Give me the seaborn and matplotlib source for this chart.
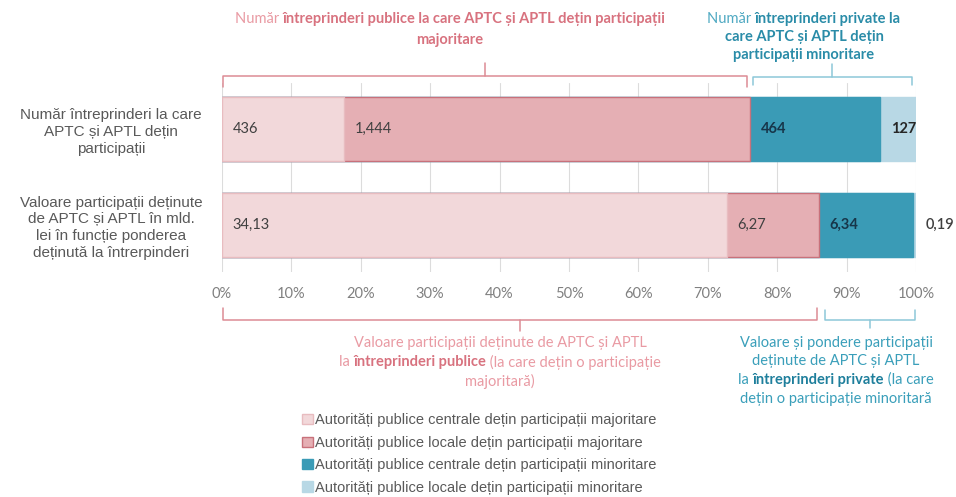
import numpy as np
import pandas as pd
import matplotlib
matplotlib.use("Agg")
import matplotlib.pyplot as plt
import matplotlib.transforms as mtransforms
from matplotlib.patches import Patch
import seaborn as sns

# data
rows = [
    "Număr întreprinderi la care\nAPTC și APTL dețin\nparticipații",
    "Valoare participații deținute\nde APTC și APTL în mld.\nlei în funcție ponderea\ndeținută la întrerpinderi",
]
series = [
    "Autorități publice centrale dețin participații majoritare",
    "Autorități publice locale dețin participații majoritare",
    "Autorități publice centrale dețin participații minoritare",
    "Autorități publice locale dețin participații minoritare",
]
central_major = [436, 34.13]
local_major = [1444, 6.27]
central_minor = [464, 6.34]
local_minor = [127, 0.19]
pct_ticks = [0, 10, 20, 30, 40, 50, 60, 70, 80, 90, 100]

faces = ["#F2D8DA", "#E5AFB4", "#3A9BB6", "#B8D8E5"]
edges = ["#E8BCC0", "#C8717B", "#3A9BB6", "#B8D8E5"]
label_colors = ["#404040", "#404040", "#17364A", "#262626"]
label_weights = ["normal", "normal", "bold", "bold"]

PINK, PINK_B = "#E99AA3", "#D8727F"
TEAL, TEAL_B = "#4FA9C2", "#2A8CA8"


def fmt(v, row):
    if row == 0:
        return f"{v:,.0f}"
    return f"{v:.2f}".replace(".", ",")


sns.set_theme(style="white")
plt.rcParams["font.family"] = ["Liberation Sans", "DejaVu Sans"]

W, H = 956, 497
fig = plt.figure(figsize=(W / 100, H / 100), dpi=100)
ax = fig.add_axes([222 / W, 1 - 272 / H, 694 / W, 189 / H])

vals = np.array([central_major, local_major, central_minor, local_minor], dtype=float)
pct = vals / vals.sum(axis=0) * 100
cum = pct.cumsum(axis=0)
start = cum - pct

df = pd.DataFrame({
    "row": np.tile(rows, len(series)),
    "series": np.repeat(series, len(rows)),
    "cum": cum.ravel(),
})

# stacked bars: draw cumulative totals from the longest to the shortest
for i in reversed(range(len(series))):
    sns.barplot(data=df[df["series"] == series[i]], x="cum", y="row", order=rows,
                orient="h", color=faces[i], edgecolor=edges[i], linewidth=1,
                width=0.667, saturation=1, ax=ax)

ax.set_xlim(0, 100)
ax.set_ylim(1.49, -0.48)
ax.set_xlabel("")
ax.set_ylabel("")
ax.set_xticks(pct_ticks)
ax.set_xticklabels([f"{t}%" for t in pct_ticks], family="Lato", fontsize=10.5, color="#808080")
ax.set_yticks(range(len(rows)))
ax.set_yticklabels(rows, ha="center", multialignment="center", fontsize=11,
                   color="#595959", linespacing=1.24)
ax.tick_params(axis="y", length=0, pad=80)
ax.tick_params(axis="x", length=0, pad=11)
ax.grid(axis="x", color="#DCDCDC", lw=0.8)
ax.set_axisbelow(True)
for s in ax.spines.values():
    s.set_visible(False)

# value labels
for i in range(len(series)):
    for r in range(len(rows)):
        if pct[i, r] < 2:
            ax.annotate(fmt(vals[i, r], r), xy=(cum[i, r], r), xytext=(7, 0),
                        textcoords="offset points", va="center", ha="left",
                        family="Lato", fontsize=10.5, color="#404040", fontweight="semibold")
        else:
            ax.annotate(fmt(vals[i, r], r), xy=(start[i, r], r), xytext=(7.5, 0),
                        textcoords="offset points", va="center", ha="left",
                        family="Lato", fontsize=10.5, color=label_colors[i],
                        fontweight=label_weights[i])

# brackets and their captions
fig.canvas.draw()
renderer = fig.canvas.get_renderer()
pix = mtransforms.IdentityTransform()
btrans = mtransforms.blended_transform_factory(ax.transData, pix)


def bracket(x0, x1, y_line, y_end, y_tip, color):
    xc = (x0 + x1) / 2
    ax.plot([x0, x0, x1, x1], [H - y_end, H - y_line, H - y_line, H - y_end],
            transform=btrans, color=color, lw=1.1, clip_on=False, solid_joinstyle="round")
    ax.plot([xc, xc], [H - y_line, H - y_tip], transform=btrans, color=color,
            lw=1.1, clip_on=False)


def caption(lines, xc, y0, dy, colors, size=10.5):
    for k, runs in enumerate(lines):
        texts, widths = [], []
        for s, w in runs:
            c = colors[1] if w == "bold" else colors[0]
            t = fig.text(0, 0, s, transform=pix, fontsize=size, fontweight=w, color=c,
                         family=["Lato", "DejaVu Sans"], va="center", ha="left")
            widths.append(t.get_window_extent(renderer).width)
            texts.append(t)
        x = xc - sum(widths) / 2
        for t, wd in zip(texts, widths):
            t.set_position((x, H - (y0 + k * dy)))
            x += wd


gap = 0.4
bracket(0.2, cum[1, 0] - gap, 76, 87, 63, "#DC8C95")
caption([[("Număr ", "normal"), ("întreprinderi publice la care APTC și APTL dețin participații", "bold")],
         [("majoritare", "bold")]], 450, 19, 21, (PINK, PINK_B))

bracket(cum[1, 0] + gap, 99.4, 77, 85, 64, "#8DC7D8")
caption([[("Număr ", "normal"), ("întreprinderi private la", "bold")],
         [("care APTC și APTL dețin", "bold")],
         [("participații minoritare", "bold")]], 804, 19, 18, (TEAL, TEAL_B))

bracket(0.2, cum[1, 1] - gap, 320, 308, 331, "#DC8C95")
caption([[("Valoare participații deținute de APTC și APTL", "normal")],
         [("la ", "normal"), ("întreprinderi publice", "bold"), (" (la care dețin o participație", "normal")],
         [("majoritară)", "normal")]], 500, 343, 19, (PINK, PINK_B))

bracket(cum[1, 1] + 0.8, 99.9, 320, 310, 328, "#8DC7D8")
caption([[("Valoare și pondere participații", "normal")],
         [("deținute de APTC și APTL", "normal")],
         [("la ", "normal"), ("întreprinderi private", "bold"), (" (la care", "normal")],
         [("dețin o participație minoritară", "normal")]], 836, 343, 18.5, ("#3A9FBA", "#1E7F9C"))

# legend
handles = [Patch(facecolor=faces[i], edgecolor=edges[i], linewidth=1, label=series[i])
           for i in range(len(series))]
fig.legend(handles=handles, loc="upper left", bbox_to_anchor=(295 / W, 1 - 406 / H),
           frameon=False, fontsize=10.5, labelcolor="#595959", handlelength=0.7,
           handleheight=0.7, handletextpad=0.15, labelspacing=0.58, borderpad=0)

fig.savefig("out.png", dpi=100)
